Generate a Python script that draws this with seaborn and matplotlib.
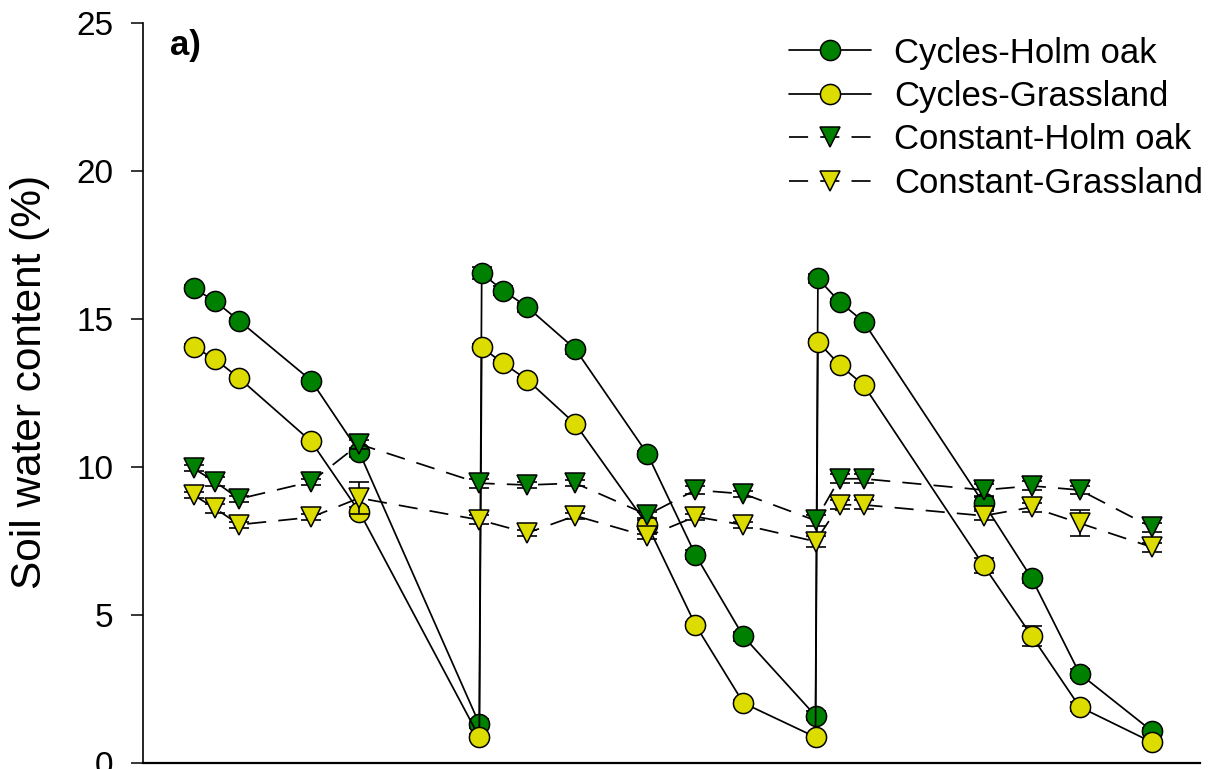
import numpy as np
import pandas as pd
import matplotlib
matplotlib.use("Agg")
import matplotlib.pyplot as plt
import seaborn as sns

# sampling days
cycle_days = [0.1, 1, 2, 5, 7, 12, 12.1, 13, 14, 16, 19, 21, 23, 26, 26.1, 27, 28, 33, 35, 37, 40]
const_days = [0.1, 1, 2, 5, 7, 12, 14, 16, 19, 21, 23, 26, 27, 28, 33, 35, 37, 40]

# soil water content (%)
cycles_oak = [16.04, 15.6, 14.94, 12.92, 10.5, 1.32,
              16.54, 15.96, 15.4, 13.98, 10.44, 7.03, 4.27, 1.59,
              16.37, 15.58, 14.91, 8.77, 6.24, 3.01, 1.08]
cycles_grass = [14.06, 13.64, 13.0, 10.86, 8.49, 0.87,
                14.04, 13.5, 12.94, 11.45, 8.04, 4.66, 2.02, 0.87,
                14.23, 13.45, 12.77, 6.67, 4.29, 1.89, 0.70]
const_oak = [9.95, 9.5, 8.92, 9.5, 10.77, 9.45, 9.39, 9.45, 8.38,
             9.22, 9.09, 8.19, 9.6, 9.6, 9.22, 9.36, 9.22, 7.96]
const_grass = [9.05, 8.6, 8.05, 8.3, 8.95, 8.21, 7.77, 8.35, 7.65,
               8.32, 8.04, 7.48, 8.72, 8.72, 8.35, 8.64, 8.1, 7.29]

# standard errors
cycles_oak_se = [0.1, 0.1, 0.1, 0.1, 0.15, 0.15,
                 0.2, 0.15, 0.15, 0.15, 0.1, 0.15, 0.15, 0.15,
                 0.15, 0.1, 0.1, 0.2, 0.15, 0.15, 0.1]
cycles_grass_se = [0.1, 0.1, 0.1, 0.1, 0.15, 0.1,
                   0.1, 0.1, 0.1, 0.1, 0.15, 0.1, 0.1, 0.1,
                   0.1, 0.1, 0.1, 0.25, 0.35, 0.15, 0.1]
const_oak_se = [0.1, 0.15, 0.1, 0.1, 0.15, 0.15, 0.1, 0.1, 0.1,
                0.15, 0.1, 0.2, 0.15, 0.15, 0.2, 0.15, 0.15, 0.15]
const_grass_se = [0.1, 0.15, 0.1, 0.1, 0.55, 0.15, 0.1, 0.1, 0.1,
                  0.1, 0.1, 0.2, 0.15, 0.15, 0.15, 0.15, 0.45, 0.15]

labels = ["Cycles-Holm oak", "Cycles-Grassland", "Constant-Holm oak", "Constant-Grassland"]
green = "#008000"
yellow = "#dcdc00"

sns.set_style("ticks")
plt.rcParams["font.family"] = ["Liberation Sans", "DejaVu Sans"]
plt.rcParams["text.color"] = "black"
plt.rcParams["axes.labelcolor"] = "black"
plt.rcParams["axes.edgecolor"] = "black"
plt.rcParams["ytick.color"] = "black"

fig = plt.figure(figsize=(12.23, 7.69), dpi=100)
ax = fig.add_axes([0.117, 0.008, 0.864, 0.962])

series = [
    (cycle_days, cycles_oak, cycles_oak_se, labels[0], green, "o", "-"),
    (cycle_days, cycles_grass, cycles_grass_se, labels[1], yellow, "o", "-"),
    (const_days, const_oak, const_oak_se, labels[2], green, "v", (0, (11, 7))),
    (const_days, const_grass, const_grass_se, labels[3], yellow, "v", (0, (11, 7))),
]

for i, (x, y, se, lab, col, mk, ls) in enumerate(series):
    df = pd.DataFrame({"day": x, "swc": y})
    ax.errorbar(x, y, yerr=se, fmt="none", ecolor="black", elinewidth=1.2,
                capsize=7, capthick=1.2, zorder=2 + i)
    sns.lineplot(data=df, x="day", y="swc", ax=ax, sort=False, estimator=None,
                 color="black", linewidth=1.25, linestyle=ls, marker=mk,
                 markersize=14.5, markerfacecolor=col, markeredgecolor="black",
                 markeredgewidth=1.1, label=lab, zorder=2 + i)

ax.set_xlim(-2, 42)
ax.set_ylim(0, 25)
ax.set_yticks([0, 5, 10, 15, 20, 25])
ax.set_xticks([])
ax.set_xlabel("")
ax.set_ylabel("Soil water content (%)", fontsize=30.5)
ax.yaxis.set_label_coords(-0.088, 0.515)
ax.tick_params(axis="y", labelsize=24, length=8.5, width=1.1, pad=13)
for side in ["top", "right"]:
    ax.spines[side].set_visible(False)
ax.spines["left"].set_linewidth(1.2)
ax.spines["bottom"].set_linewidth(1.6)

ax.text(0.025, 0.992, "a)", transform=ax.transAxes, fontsize=25,
        fontweight="bold", va="top", ha="left")

leg = ax.legend(loc="upper right", bbox_to_anchor=(1.023, 1.010), frameon=False,
                fontsize=25, handlelength=2.36, handletextpad=0.66,
                labelspacing=0.3, borderaxespad=0.2)

fig.savefig("out.png", dpi=100)
